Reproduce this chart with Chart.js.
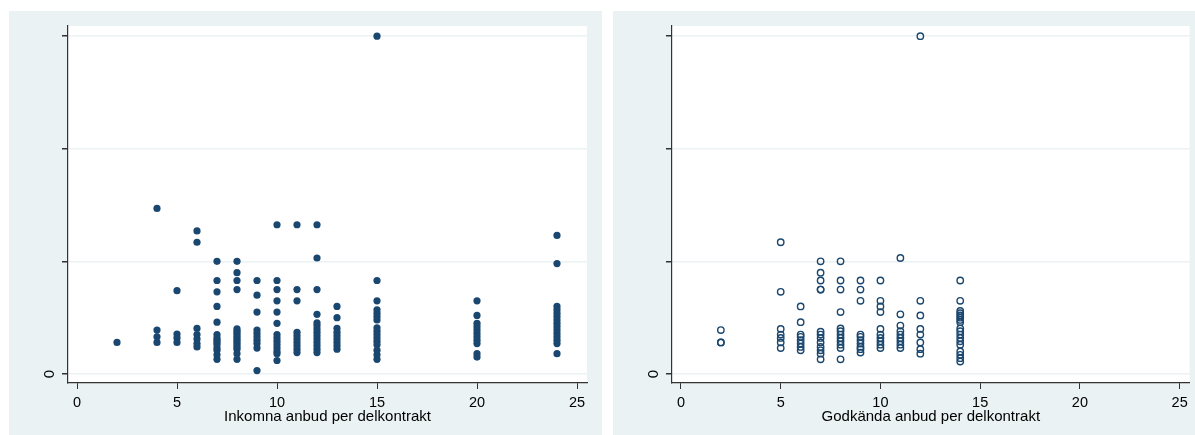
<!DOCTYPE html>
<html>
<head>
<meta charset="utf-8">
<script src="https://cdn.jsdelivr.net/npm/chart.js@4.4.1/dist/chart.umd.min.js"></script>
<style>
  body { margin: 0; background: #fff; width: 1195px; height: 435px; position: relative; overflow: hidden; }
  .panel { position: absolute; top: 11px; background: #eaf2f3; }
  #p1 { left: 9px; width: 593px; height: 424px; }
  #p2 { left: 613px; width: 582px; height: 424px; }
</style>
</head>
<body>
<div class="panel" id="p1"><canvas id="c1" width="593" height="424"></canvas></div>
<div class="panel" id="p2"><canvas id="c2" width="582" height="424"></canvas></div>
<script>
// y values are unlabelled in the original (only 0 shown); units = one grid step
const yTicks = [0, 1, 2, 3];
const xTicks = [0, 5, 10, 15, 20, 25];

const inkomnaX = [
  2,
  4, 4, 4, 4,
  5, 5, 5, 5,
  6, 6, 6, 6, 6, 6, 6,
  7, 7, 7, 7, 7, 7, 7, 7, 7, 7, 7, 7, 7, 7,
  8, 8, 8, 8, 8, 8, 8, 8, 8, 8, 8, 8, 8, 8, 8, 8,
  9, 9, 9, 9, 9, 9, 9, 9, 9, 9,
  10, 10, 10, 10, 10, 10, 10, 10, 10, 10, 10, 10, 10, 10,
  11, 11, 11, 11, 11, 11, 11, 11, 11, 11,
  12, 12, 12, 12, 12, 12, 12, 12, 12, 12, 12, 12, 12, 12,
  13, 13, 13, 13, 13, 13, 13, 13, 13,
  15, 15, 15, 15, 15, 15, 15, 15, 15, 15, 15, 15, 15, 15, 15, 15,
  20, 20, 20, 20, 20, 20, 20, 20, 20, 20, 20,
  24, 24, 24, 24, 24, 24, 24, 24, 24, 24, 24, 24, 24, 24, 24
];
const inkomnaY = [
  0.28,
  1.47, 0.39, 0.33, 0.28,
  0.74, 0.355, 0.32, 0.28,
  1.27, 1.17, 0.405, 0.35, 0.31, 0.27, 0.24,
  1.0, 0.83, 0.73, 0.60, 0.46, 0.35, 0.32, 0.30, 0.28, 0.26, 0.23, 0.21, 0.17, 0.13,
  1.0, 0.90, 0.83, 0.75, 0.40, 0.38, 0.36, 0.34, 0.32, 0.30, 0.28, 0.26, 0.24, 0.22, 0.18, 0.13,
  0.83, 0.70, 0.55, 0.39, 0.36, 0.33, 0.30, 0.27, 0.23, 0.03,
  1.325, 0.83, 0.75, 0.65, 0.55, 0.45, 0.35, 0.32, 0.29, 0.26, 0.23, 0.20, 0.18, 0.12,
  1.325, 0.75, 0.65, 0.37, 0.34, 0.31, 0.28, 0.25, 0.22, 0.19,
  1.325, 1.03, 0.75, 0.53, 0.455, 0.43, 0.40, 0.37, 0.34, 0.31, 0.28, 0.25, 0.22, 0.19,
  0.60, 0.50, 0.405, 0.37, 0.34, 0.31, 0.28, 0.25, 0.22,
  3.0, 0.83, 0.65, 0.57, 0.54, 0.51, 0.48, 0.41, 0.38, 0.35, 0.32, 0.29, 0.26, 0.21, 0.17, 0.13,
  0.65, 0.52, 0.45, 0.42, 0.39, 0.36, 0.33, 0.30, 0.27, 0.18, 0.15,
  1.23, 0.98, 0.60, 0.57, 0.54, 0.51, 0.48, 0.45, 0.42, 0.39, 0.36, 0.33, 0.30, 0.27, 0.18
];

const godkandaX = [
  2, 2, 2,
  5, 5, 5, 5, 5, 5, 5,
  6, 6, 6, 6, 6, 6, 6, 6,
  7, 7, 7, 7, 7, 7, 7, 7, 7, 7, 7, 7, 7,
  8, 8, 8, 8, 8, 8, 8, 8, 8, 8, 8, 8,
  9, 9, 9, 9, 9, 9, 9, 9, 9, 9,
  10, 10, 10, 10, 10, 10, 10, 10, 10, 10,
  11, 11, 11, 11, 11, 11, 11, 11, 11,
  12, 12, 12, 12, 12, 12, 12, 12,
  14, 14, 14, 14, 14, 14, 14, 14, 14, 14, 14, 14, 14, 14, 14, 14, 14, 14
];
const godkandaY = [
  0.39, 0.28, 0.28,
  1.17, 0.73, 0.40, 0.35, 0.32, 0.28, 0.23,
  0.60, 0.46, 0.35, 0.33, 0.30, 0.27, 0.24, 0.21,
  1.0, 0.90, 0.83, 0.75, 0.75, 0.375, 0.35, 0.32, 0.28, 0.24, 0.21, 0.18, 0.13,
  1.0, 0.83, 0.75, 0.55, 0.405, 0.38, 0.35, 0.32, 0.29, 0.26, 0.23, 0.13,
  0.83, 0.75, 0.65, 0.35, 0.33, 0.30, 0.27, 0.24, 0.22, 0.19,
  0.83, 0.65, 0.60, 0.55, 0.40, 0.35, 0.32, 0.29, 0.26, 0.23,
  1.03, 0.53, 0.43, 0.38, 0.35, 0.32, 0.29, 0.26, 0.23,
  3.0, 0.65, 0.52, 0.40, 0.35, 0.28, 0.22, 0.18,
  0.83, 0.65, 0.56, 0.54, 0.52, 0.50, 0.48, 0.46, 0.405, 0.38, 0.35, 0.32, 0.29, 0.26, 0.20, 0.17, 0.14, 0.11
];

const navy = '#1a476f';
const axisColor = '#333333';
const gridColor = '#eaf2f3';
const fontFamily = '"Liberation Sans", Arial, sans-serif';

// white plot region inside the grey-blue panel
const plotBg = {
  id: 'plotBg',
  beforeDraw(chart) {
    const { ctx, chartArea: a } = chart;
    ctx.save();
    ctx.fillStyle = '#ffffff';
    ctx.fillRect(a.left - 1, a.top, a.right - a.left + 1, a.bottom - a.top);
    ctx.restore();
  }
};

// Stata draws the y labels turned on their side; only "0" is labelled
const yZeroLabel = {
  id: 'yZeroLabel',
  afterDraw(chart) {
    const { ctx, chartArea: a } = chart;
    const y = chart.scales.y.getPixelForValue(0);
    ctx.save();
    ctx.translate(a.left - 18, y);
    ctx.rotate(-Math.PI / 2);
    ctx.fillStyle = '#000';
    ctx.font = '15px ' + fontFamily;
    ctx.textAlign = 'center';
    ctx.textBaseline = 'middle';
    ctx.fillText('0', 0, 0);
    ctx.restore();
  }
};

function makeChart(id, xs, ys, title, hollow, rightPad) {
  const points = xs.map((x, i) => ({ x: x, y: ys[i] }));
  return new Chart(document.getElementById(id), {
    type: 'scatter',
    data: {
      datasets: [{
        data: points,
        pointRadius: hollow ? 3.2 : 3.6,
        pointBorderWidth: hollow ? 1.4 : 0,
        pointBackgroundColor: hollow ? 'rgba(0,0,0,0)' : navy,
        pointBorderColor: navy
      }]
    },
    options: {
      responsive: false,
      animation: false,
      layout: { padding: { top: 15, right: rightPad, left: 0, bottom: 0 } },
      plugins: { legend: { display: false }, tooltip: { enabled: false } },
      scales: {
        x: {
          type: 'linear',
          min: -0.45,
          max: 25.5,
          afterBuildTicks: s => { s.ticks = xTicks.map(v => ({ value: v })); },
          afterFit: s => { s.height = 52; },
          border: { display: true, color: axisColor, width: 1.2 },
          grid: { drawOnChartArea: false, tickColor: axisColor, tickLength: 6 },
          ticks: { color: '#000', font: { family: fontFamily, size: 14.5 }, padding: 5, maxRotation: 0 },
          title: { display: true, text: title, color: '#000', font: { family: fontFamily, size: 15 }, padding: { top: 0, bottom: 9 } }
        },
        y: {
          type: 'linear',
          min: -0.08,
          max: 3.09,
          afterBuildTicks: s => { s.ticks = yTicks.map(v => ({ value: v })); },
          afterFit: s => { s.width = 59; },
          border: { display: true, color: axisColor, width: 1.2 },
          grid: { color: gridColor, lineWidth: 1.5, tickColor: axisColor, tickLength: 6 },
          ticks: { display: false }
        }
      }
    },
    plugins: [plotBg, yZeroLabel]
  });
}

makeChart('c1', inkomnaX, inkomnaY, 'Inkomna anbud per delkontrakt', false, 15);
makeChart('c2', godkandaX, godkandaY, 'Godkända anbud per delkontrakt', true, 4);
</script>
</body>
</html>
